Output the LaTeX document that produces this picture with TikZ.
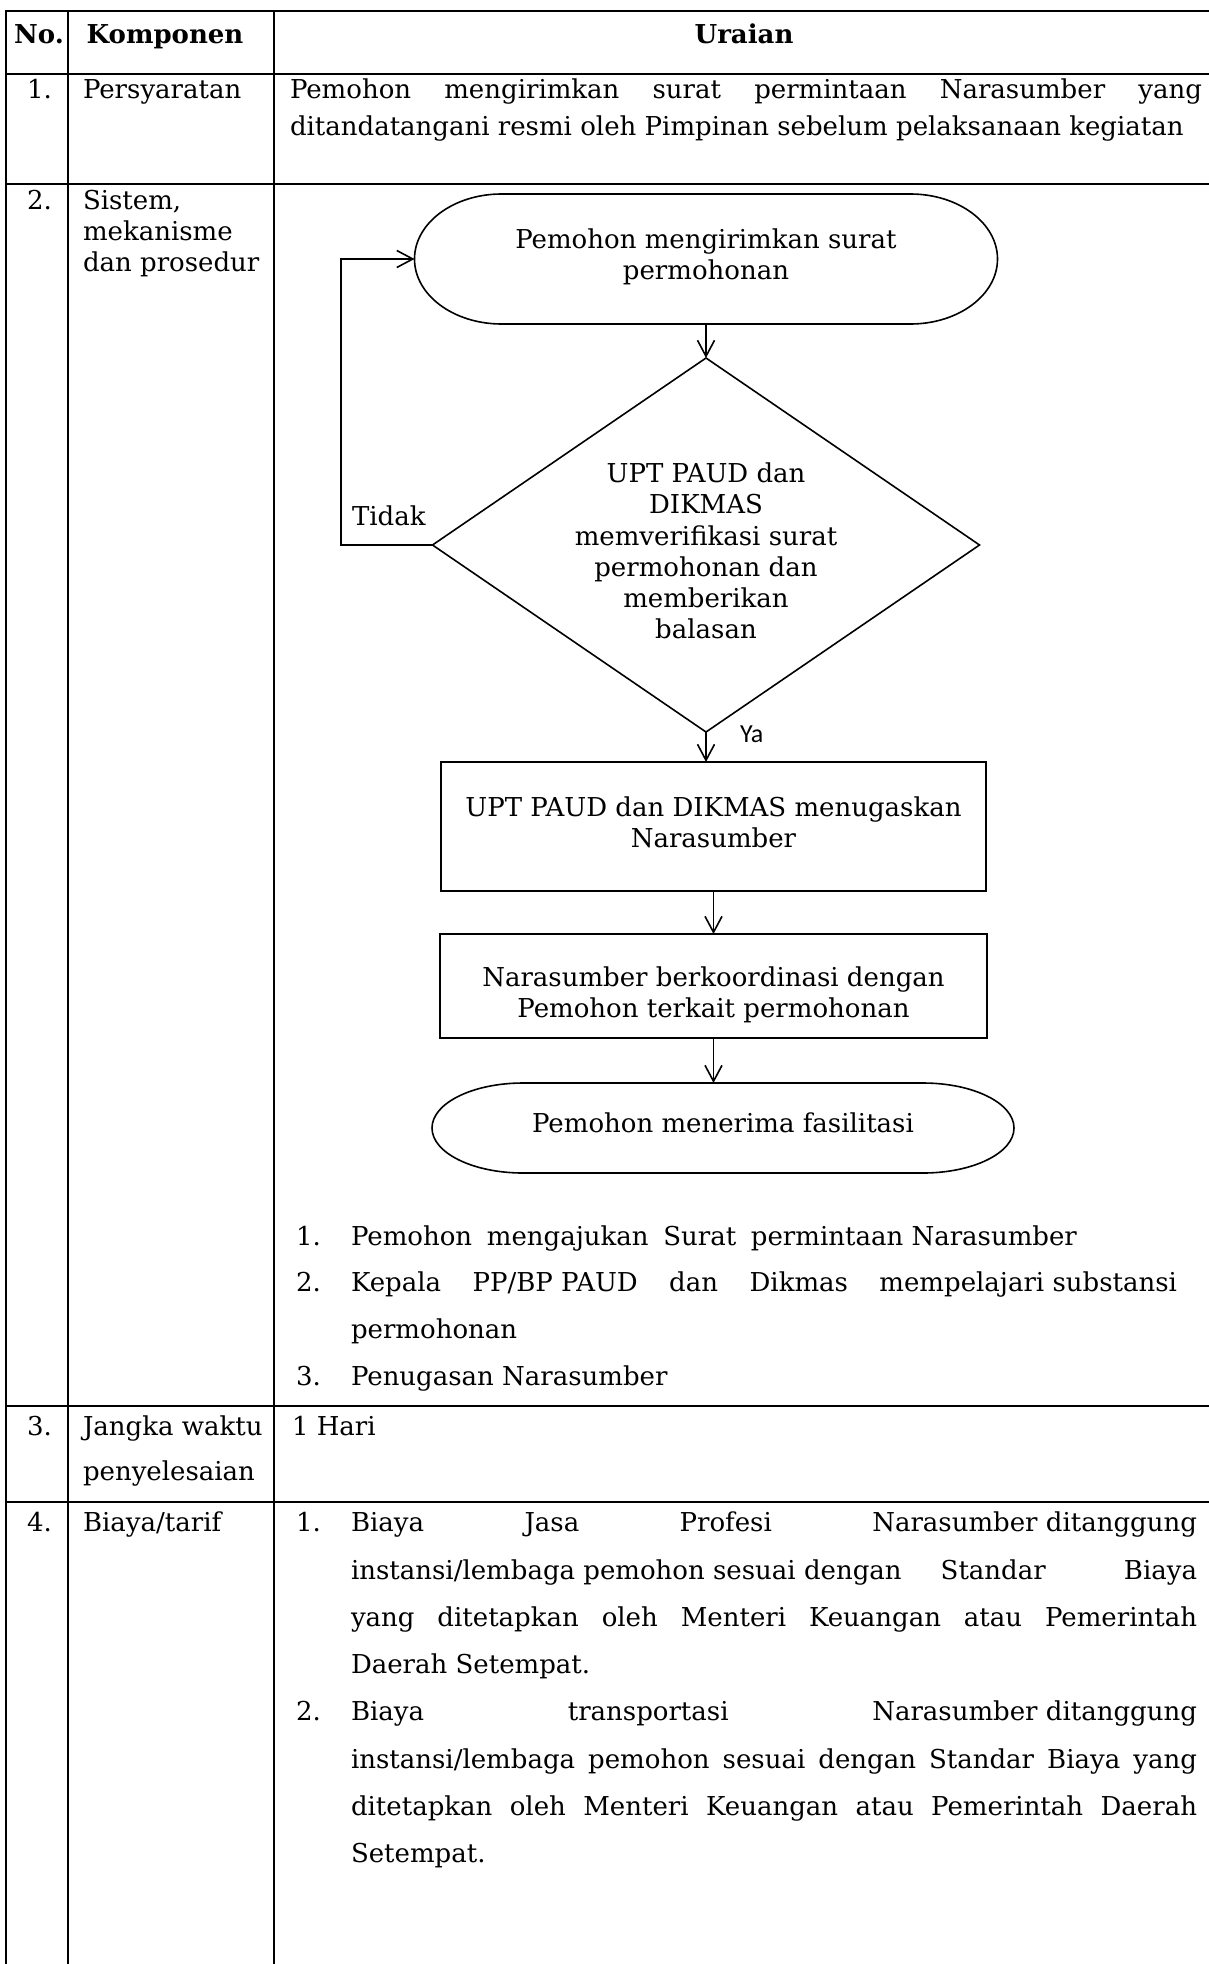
\documentclass[tikz,border=0pt]{standalone}
\usepackage{fontspec}
\setmainfont{DejaVu Serif}
\newfontfamily\labelfont{Carlito}
\usetikzlibrary{arrows.meta,shapes.geometric}

\begin{document}
\begin{tikzpicture}[x=0.5pt,y=-0.5pt,
  every node/.style={inner sep=0pt, outer sep=0pt, font=\fontsize{13}{15.65}\selectfont},
  grid/.style={line width=1.3pt},
  flow/.style={line width=0.8pt},
  arr/.style={flow,-{Straight Barb[length=8pt,width=8.5pt,line width=0.8pt]}},
  txt/.style={anchor=base west},
  head/.style={anchor=base, font=\fontsize{13}{15.65}\selectfont\bfseries},
  box/.style={draw, flow, rectangle},
  term/.style={rectangle},
  inside/.style={align=center},
]
% page
\path[use as bounding box, fill=white] (0,0) rectangle (1209,1964);

% table grid
\draw[grid] (1209,11) -- (6,11) -- (6,1964);
\draw[grid] (68,11) -- (68,1964);
\draw[grid] (274,11) -- (274,1964);
\draw[grid] (6,74) -- (1209,74);
\draw[grid] (6,184) -- (1209,184);
\draw[grid] (6,1406) -- (1209,1406);
\draw[grid] (6,1502) -- (1209,1502);

% header
\node[head] (hno) at (39,44) {No.};
\node[head] (hkomp) at (165,44) {Komponen};
\node[head] (hura) at (744,44) {Uraian};

% row 1
\node[txt] (n1) at (27,98) {1.};
\node[txt] (k1) at (83,98) {Persyaratan};
\node[txt] (u1a) at (290,98) {\makebox[456pt][s]{Pemohon mengirimkan surat permintaan Narasumber yang}};
\node[txt] (u1b) at (290,135) {ditandatangani resmi oleh Pimpinan sebelum pelaksanaan kegiatan};

% row 2
\node[txt] (n2) at (27,209) {2.};
\node[txt] (k2a) at (83,209) {Sistem,};
\node[txt] (k2b) at (83,240) {mekanisme};
\node[txt] (k2c) at (83,271) {dan prosedur};

% flowchart: start terminator
\node[term, minimum width=291.5pt, minimum height=65pt] (start) at (706,259) {};
\node[inside] (startt) at (706,257) {Pemohon mengirimkan surat\\permohonan};
\draw[flow] ([xshift=43.5pt]start.north west) -- ([xshift=-43.5pt]start.north east)
  arc[start angle=90, end angle=-90, x radius=43.5pt, y radius=32.5pt]
  -- ([xshift=43.5pt]start.south west)
  arc[start angle=270, end angle=90, x radius=43.5pt, y radius=32.5pt] -- cycle;

% decision
\node[diamond, draw, flow, minimum width=273.5pt, minimum height=187pt] (dia) at (706,545) {};
\node[inside] (diatext) at (706,551) {UPT PAUD dan\\DIKMAS\\memverifikasi surat\\permohonan dan\\memberikan\\balasan};
\node[txt] (tidak) at (352,525) {Tidak};
\node[anchor=base west, font=\labelfont\fontsize{13}{15}\selectfont] (ya) at (740,742) {Ya};

% process boxes
\node[box, minimum width=272.5pt, minimum height=64.5pt] (b1) at (713.5,826.5) {};
\node[inside] (b1t) at (713.5,822.5) {UPT PAUD dan DIKMAS menugaskan\\Narasumber};
\node[box, minimum width=273.5pt, minimum height=52pt] (b2) at (713.5,986) {};
\node[inside] (b2t) at (713.5,995) {Narasumber berkoordinasi dengan\\Pemohon terkait permohonan};

% end terminator
\node[term, minimum width=291pt, minimum height=45pt] (finish) at (723,1128) {};
\node[inside] (finisht) at (723,1122.5) {Pemohon menerima fasilitasi};
\draw[flow] ([xshift=45.5pt]finish.north west) -- ([xshift=-45.5pt]finish.north east)
  arc[start angle=90, end angle=-90, x radius=45.5pt, y radius=22.5pt]
  -- ([xshift=45.5pt]finish.south west)
  arc[start angle=270, end angle=90, x radius=45.5pt, y radius=22.5pt] -- cycle;

% connectors
\coordinate (loop) at (341,545);
\draw[arr] (start.south) -- (dia.north);
\draw[arr] (dia.west) -- (loop) |- (start.west);
\draw[arr] (dia.south) -- (dia.south |- b1.north);
\draw[arr] (b1.south) -- (b2.north);
\draw[arr] (b2.south) -- (b2.south |- finish.north);

% row 2 list
\node[txt] (l1n) at (296,1245) {1.};
\node[txt] (l1t) at (351,1245) {\makebox[363pt][l]{Pemohon\hfill mengajukan\hfill Surat\hfill permintaan Narasumber}};
\node[txt] (l2n) at (296,1291) {2.};
\node[txt] (l2t) at (351,1291) {\makebox[413pt][l]{Kepala\hfill PP/BP PAUD\hfill dan\hfill Dikmas\hfill mempelajari substansi}};
\node[txt] (l2c) at (351,1338) {permohonan};
\node[txt] (l3n) at (296,1385) {3.};
\node[txt] (l3t) at (351,1385) {Penugasan Narasumber};

% row 3
\node[txt] (n3) at (27,1435) {3.};
\node[txt] (k3a) at (83,1435) {Jangka waktu};
\node[txt] (k3b) at (83,1480) {penyelesaian};
\node[txt] (u3) at (292,1435) {1 Hari};

% row 4
\node[txt] (n4) at (27,1531) {4.};
\node[txt] (k4) at (83,1531) {Biaya/tarif};
\node[txt] (c1n) at (296,1531) {1.};
\node[txt] (c1a) at (351,1531) {\makebox[423pt][l]{Biaya\hfill Jasa\hfill Profesi\hfill Narasumber ditanggung}};
\node[txt] (c1b) at (351,1579) {\makebox[423pt][l]{instansi/lembaga pemohon sesuai dengan\hfill Standar\hfill\hfill Biaya}};
\node[txt] (c1c) at (351,1626) {\makebox[423pt][s]{yang ditetapkan oleh Menteri Keuangan atau Pemerintah}};
\node[txt] (c1d) at (351,1673) {Daerah Setempat.};
\node[txt] (c2n) at (296,1720) {2.};
\node[txt] (c2a) at (351,1720) {\makebox[423pt][l]{Biaya\hfill transportasi\hfill Narasumber ditanggung}};
\node[txt] (c2b) at (351,1768) {\makebox[423pt][s]{instansi/lembaga pemohon sesuai dengan Standar Biaya yang}};
\node[txt] (c2c) at (351,1815) {\makebox[423pt][s]{ditetapkan oleh Menteri Keuangan atau Pemerintah Daerah}};
\node[txt] (c2d) at (351,1862) {Setempat.};
\end{tikzpicture}
\end{document}
